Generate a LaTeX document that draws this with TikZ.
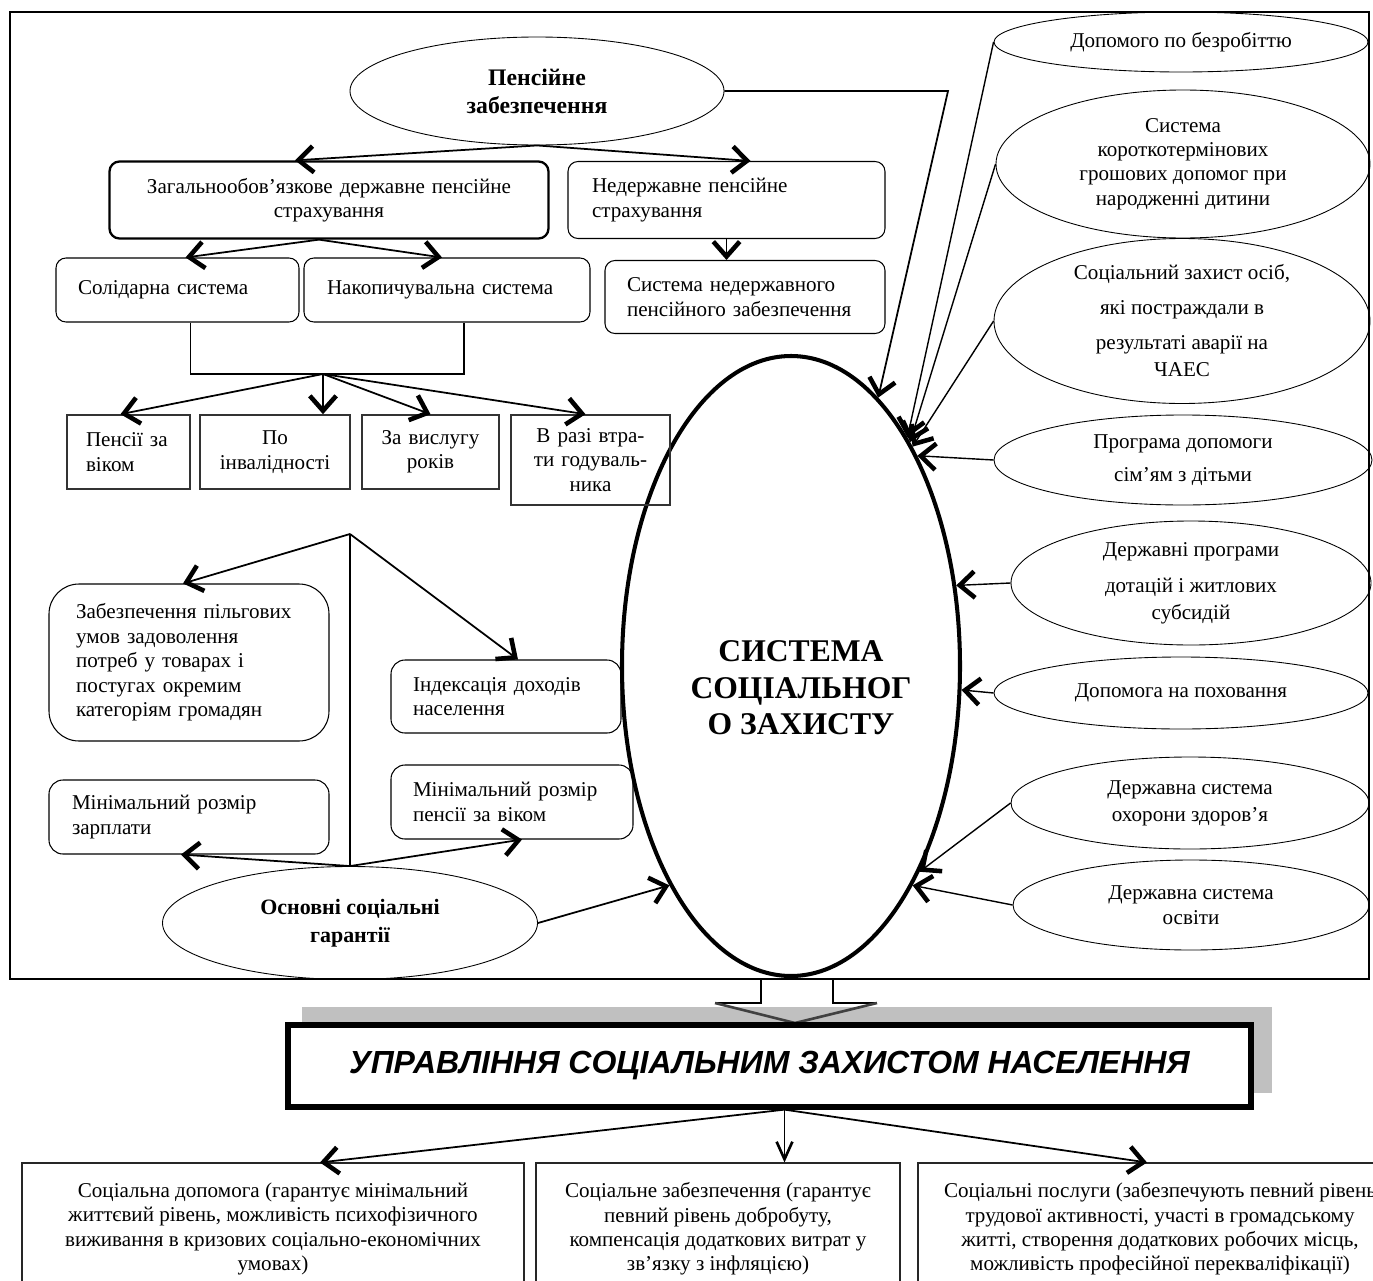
\documentclass[tikz,border=0pt]{standalone}
\usepackage{fontspec}
\setmainfont{Liberation Serif}
\newfontfamily\titlesans{Liberation Sans}
\usetikzlibrary{shapes.geometric,arrows.meta}
\newdimen\pu \pu=0.02cm
\tikzset{
  txt/.style={font=\fontsize{12}{13.9}\selectfont},
  rbox/.style={txt, draw, line width=0.6pt, rounded corners=10\pu, inner sep=0pt, align=left},
  sbox/.style={txt, draw=black!80, line width=0.9pt, inner sep=0pt, align=center},
  bbox/.style={txt, draw=black!85, line width=0.6pt, inner sep=0pt, align=center},
  oval/.style={txt, ellipse, draw, line width=0.5pt, inner sep=0pt, align=center},
  boldoval/.style={oval, font=\bfseries\fontsize{12.5}{15.9}\selectfont},
  conn/.style={line width=1pt, -{Straight Barb[length=8.5pt, width=15pt, line width'=2.6pt]}},
  thinconn/.style={line width=0.8pt, -{Straight Barb[length=8.5pt, width=15pt, line width'=2.6pt]}},
  upr/.style={draw, line width=3pt, fill=white, inner sep=0pt, font=\titlesans\bfseries\itshape\fontsize{18.2}{21}\selectfont},
}
\begin{document}
\begin{tikzpicture}[x=\pu, y=-\pu]
\useasboundingbox (0,0) rectangle (1373,1281);
\definecolor{shadowgray}{HTML}{C0C0C0}
\definecolor{headgray}{HTML}{404040}
\draw[line width=1.3pt] (10,12) rectangle (1369,979);

\node[ellipse, draw, line width=2.3pt, minimum width=338\pu, minimum height=620\pu, inner sep=0pt] (sys) at (791,666) {};
\node[font=\bfseries\fontsize{18}{20.7}\selectfont, align=center] (systxt) at (801,688) {СИСТЕМА\\СОЦІАЛЬНОГ\\О ЗАХИСТУ};

\node[boldoval, font=\bfseries\fontsize{13.5}{15.9}\selectfont, minimum width=374\pu, minimum height=108\pu] (pens) at (537,91) {Пенсійне\\забезпечення};
\node[rbox, line width=1.3pt, align=center, text width=439\pu, minimum height=77\pu] (zag) at (329,200) {Загальнообов’язкове державне пенсійне\\страхування};
\node[rbox, inner xsep=24\pu, text width=269\pu, minimum height=77\pu] (nederzh) at (726.5,200) {Недержавне пенсійне\\страхування};
\node[rbox, inner xsep=22\pu, text width=199\pu, minimum height=64\pu] (solid) at (177.5,290) {Солідарна система};
\node[rbox, inner xsep=23\pu, text width=240\pu, minimum height=64\pu] (nakop) at (447,290) {Накопичувальна система};
\node[rbox, inner xsep=22\pu, text width=236\pu, minimum height=73\pu] (sysned) at (745,297) {Система недержавного\\пенсійного забезпечення};

\node[sbox, align=left, inner xsep=19\pu, text width=85\pu, minimum height=74\pu] (pvik) at (128.5,452) {Пенсії за\\віком};
\node[sbox, text width=150\pu, minimum height=74\pu] (pinv) at (275,452) {По\\інвалідності};
\node[sbox, text width=137\pu, minimum height=74\pu] (pvys) at (430.5,452) {За вислугу\\років};
\node[sbox, text width=159\pu, minimum height=90\pu] (pvtr) at (590.5,460) {В разі втра-\\ти годуваль-\\ника};

\node[rbox, rounded corners=30\pu, inner xsep=27\pu, text width=226\pu, minimum height=157\pu] (zabez) at (189,662.5) {Забезпечення пільгових\\умов задоволення\\потреб у товарах і\\постугах окремим\\категоріям громадян};
\node[rbox, rounded corners=14\pu, inner xsep=22\pu, text width=186\pu, minimum height=73\pu] (indeks) at (506,696.5) {Індексація доходів\\населення};
\node[rbox, rounded corners=14\pu, inner xsep=23\pu, text width=234\pu, minimum height=74\pu] (minzp) at (189,817) {Мінімальний розмір\\зарплати};
\node[rbox, rounded corners=14\pu, inner xsep=22\pu, text width=198\pu, minimum height=74\pu] (minpens) at (512,802) {Мінімальний розмір\\пенсії за віком};
\node[boldoval, minimum width=375\pu, minimum height=113\pu] (osn) at (350,923) {Основні соціальні\\гарантії};

\node[oval, minimum width=374\pu, minimum height=60\pu] (bezrob) at (1181,42) {Допомого по безробіттю};
\node[oval, minimum width=374\pu, minimum height=148\pu] (korot) at (1183,164) {Система\\короткотермінових\\грошових допомог при\\народженні дитини};
\node[oval, minimum width=376\pu, minimum height=165\pu] (chaes) at (1182,321) {Соціальний захист осіб,\\[6pt]які постраждали в\\[6pt]результаті аварії на\\[1.5pt]ЧАЕС};
\node[oval, minimum width=378\pu, minimum height=90\pu] (prog) at (1183,460) {Програма допомоги\\[5pt]сім’ям з дітьми};
\node[oval, minimum width=360\pu, minimum height=124\pu] (dotac) at (1191,583) {Державні програми\\[7pt]дотацій і житлових\\[1pt]субсидій};
\node[oval, minimum width=374\pu, minimum height=72\pu] (pohov) at (1181,693) {Допомога на поховання};
\node[oval, minimum width=358\pu, minimum height=92\pu] (ohor) at (1190,803) {Державна система\\[1.5pt]охорони здоров’я};
\node[oval, minimum width=356\pu, minimum height=90\pu] (osv) at (1191,905) {Державна система\\освіти};

\draw[conn] (pens.south) -- ([xshift=-34\pu]zag.north);
\draw[conn] (pens.south) -- ([xshift=24\pu]nederzh.north);
\draw[conn] ([xshift=-10\pu]zag.south) -- ([xshift=8\pu]solid.north);
\draw[conn] ([xshift=-10\pu]zag.south) -- ([xshift=-5\pu]nakop.north);
\draw[conn] (nederzh.south) -- (nederzh.south |- sysned.north);

\coordinate (hub) at (323,374);
\draw[line width=1pt] ([xshift=13\pu]solid.south) |- (hub) -| ([xshift=17\pu]nakop.south);
\draw[conn] (hub) -- ([xshift=-8\pu]pvik.north);
\draw[conn] (hub) -- (hub |- pinv.north);
\draw[conn] (hub) -- (pvys.north);
\draw[conn] (hub) -- ([xshift=-5\pu]pvtr.north);

\coordinate (ghub) at (350,534);
\draw[line width=1pt] (osn.north) -- (ghub);
\draw[conn] (ghub) -- ([xshift=-6\pu]zabez.north);
\draw[conn] (ghub) -- ([xshift=12\pu]indeks.north);
\draw[conn] (osn.north) -- ([xshift=-8\pu]minzp.south);
\draw[conn] (osn.north) -- ([xshift=10\pu]minpens.south);
\draw[conn] (osn.east) -- (sys.-119);

\coordinate (pbend) at (948,91);
\draw[conn] (pens.east) -- (pbend) -- (sys.72);
\draw[thinconn] (bezrob.west) -- (sys.63);
\draw[thinconn] (korot.west) -- (sys.62);
\draw[thinconn] (chaes.west) -- (sys.61);
\draw[thinconn] (prog.west) -- (sys.59.5);
\draw[thinconn] (dotac.west) -- (sys.26.6);
\draw[thinconn] (pohov.west) -- (sys.-8);
\draw[thinconn] (ohor.west) -- (sys.-58.5);
\draw[thinconn] (osv.west) -- (sys.-61.5);

\fill[shadowgray] (302,1007) rectangle (1272,1093);
\draw[line width=1.5pt] (715,1003) -- (761,1003) -- (761,979) -- (833,979) -- (833,1003) -- (877,1003);
\draw[line width=1.5pt, headgray] (715,1003) -- (795,1023) -- (877,1003);
\node[upr, minimum width=963\pu, minimum height=82\pu] (uprav) at (769.5,1066) {УПРАВЛІННЯ СОЦІАЛЬНИМ ЗАХИСТОМ НАСЕЛЕННЯ};

\node[bbox, minimum width=502\pu, minimum height=132\pu] (b1) at (273,1229) {Соціальна допомога (гарантує мінімальний\\життєвий рівень, можливість психофізичного\\виживання в кризових соціально-економічних\\умовах)};
\node[bbox, minimum width=364\pu, minimum height=132\pu] (b2) at (718,1229) {Соціальне забезпечення (гарантує\\певний рівень добробуту,\\компенсація додаткових витрат у\\зв’язку з інфляцією)};
\node[bbox, minimum width=484\pu, minimum height=132\pu] (b3) at (1160,1229) {Соціальні послуги (забезпечують певний рівень\\трудової активності, участі в громадському\\житті, створення додаткових робочих місць,\\можливість професійної перекваліфікації)};

\coordinate (fork) at ([xshift=15\pu]uprav.south);
\draw[conn] (fork) -- ([xshift=47\pu]b1.north);
\draw[line width=0.6pt, -{Straight Barb[length=10pt, width=9pt, line width'=1.5pt]}] (fork) -- (fork |- b2.north);
\draw[conn] (fork) -- ([xshift=-13\pu]b3.north);
\end{tikzpicture}
\end{document}
